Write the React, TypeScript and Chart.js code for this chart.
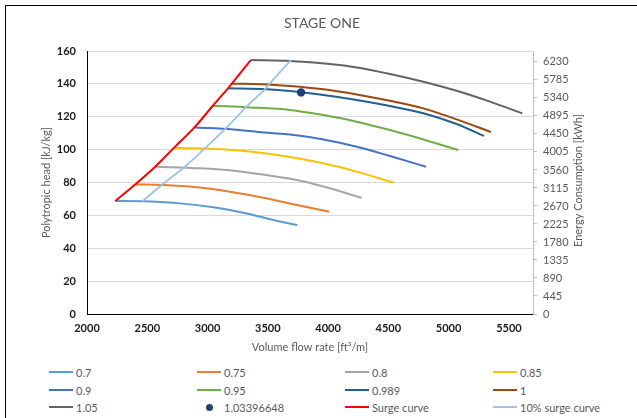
import React, { useEffect, useRef } from 'react';
import { Chart, registerables } from 'chart.js';

Chart.register(...registerables);

// ---- Data ----
const xTicks = [2000, 2500, 3000, 3500, 4000, 4500, 5000, 5500];
const headTicks = [0, 20, 40, 60, 80, 100, 120, 140, 160];
const energyTicks = [0, 445, 890, 1335, 1780, 2225, 2670, 3115, 3560, 4005, 4450, 4895, 5340, 5785, 6230];

const flow070 = [2235, 2464, 2773, 3049, 3326, 3547, 3746];
const head070 = [68.7, 68.6, 67.3, 64.9, 61.2, 57.2, 54.1];

const flow075 = [2400, 2635, 2912, 3188, 3464, 3741, 4011];
const head075 = [78.8, 78.5, 77.1, 74.4, 70.7, 66.3, 62.2];

const flow080 = [2566, 2939, 3215, 3492, 3768, 3961, 4279];
const head080 = [89.6, 88.6, 87.2, 84.5, 81.1, 77.6, 70.7];

const flow085 = [2723, 2950, 3215, 3492, 3685, 3961, 4238, 4547];
const head085 = [101.2, 100.7, 99.8, 97.7, 95.5, 91.7, 86.6, 79.9];

const flow090 = [2892, 3215, 3492, 3685, 3961, 4238, 4514, 4812];
const head090 = [113.5, 112.3, 110.3, 109.2, 106.2, 101.8, 96.1, 89.6];

const flow095 = [3044, 3354, 3685, 3961, 4238, 4514, 4790, 5080];
const head095 = [126.7, 125.7, 124.1, 121.0, 117.0, 111.9, 106.2, 99.8];

const flow0989 = [3170, 3492, 3685, 3961, 4238, 4514, 4790, 5066, 5293];
const head0989 = [137.3, 136.7, 135.6, 133.2, 130.2, 126.5, 122.1, 115.6, 108.3];

const flow100 = [3202, 3450, 3685, 3961, 4238, 4514, 4790, 5066, 5351];
const head100 = [140.1, 139.8, 138.7, 136.7, 133.6, 129.7, 125.1, 118.4, 110.7];

const flow105 = [3359, 3685, 4016, 4238, 4514, 4790, 5066, 5343, 5610];
const head105 = [154.5, 153.9, 152.1, 150.0, 146.0, 141.3, 135.8, 129.2, 122.1];

const pointFlow = [3776];
const pointHead = [134.8];

const surgeFlow = [2235, 2400, 2566, 2723, 2892, 3044, 3170, 3202, 3359];
const surgeHead = [68.7, 78.8, 89.6, 101.2, 113.5, 126.7, 137.3, 140.1, 154.5];

const surge10Flow = [2462, 2625, 2812, 2985, 3160, 3332, 3482, 3515, 3692];
const surge10Head = [68.7, 78.8, 89.6, 101.2, 113.5, 126.7, 137.3, 140.1, 154.5];

type Spec = { label: string; color: string; xs: number[]; ys: number[]; kind: 'curve' | 'point' | 'surge' };

const specs: Spec[] = [
  { label: '0.7', color: '#5B9BD5', xs: flow070, ys: head070, kind: 'curve' },
  { label: '0.75', color: '#ED7D31', xs: flow075, ys: head075, kind: 'curve' },
  { label: '0.8', color: '#A5A5A5', xs: flow080, ys: head080, kind: 'curve' },
  { label: '0.85', color: '#FFC000', xs: flow085, ys: head085, kind: 'curve' },
  { label: '0.9', color: '#4472C4', xs: flow090, ys: head090, kind: 'curve' },
  { label: '0.95', color: '#70AD47', xs: flow095, ys: head095, kind: 'curve' },
  { label: '0.989', color: '#255E91', xs: flow0989, ys: head0989, kind: 'curve' },
  { label: '1', color: '#9E480E', xs: flow100, ys: head100, kind: 'curve' },
  { label: '1.05', color: '#636363', xs: flow105, ys: head105, kind: 'curve' },
  { label: '1.03396648', color: '#203F73', xs: pointFlow, ys: pointHead, kind: 'point' },
  { label: 'Surge curve', color: '#FF0000', xs: surgeFlow, ys: surgeHead, kind: 'surge' },
  { label: '10% surge curve', color: '#9DC3E6', xs: surge10Flow, ys: surge10Head, kind: 'surge' },
];

const FONT = 'Lato, "Open Sans", sans-serif';

const extraText = {
  id: 'extraText',
  afterDraw(chart: any) {
    const { ctx, chartArea } = chart;
    ctx.save();
    ctx.fillStyle = '#595959';
    ctx.textAlign = 'center';
    ctx.textBaseline = 'middle';
    ctx.font = `14px ${FONT}`;
    ctx.fillText('STAGE ONE', 322, 23);
    ctx.translate(578, (chartArea.top + chartArea.bottom) / 2 - 2);
    ctx.rotate(-Math.PI / 2);
    ctx.font = `11px ${FONT}`;
    ctx.fillText('Energy Consumption [kWh]', 0, 0);
    ctx.restore();
  },
};

export default function App() {
  const ref = useRef<HTMLCanvasElement | null>(null);

  useEffect(() => {
    if (!ref.current) return;
    const datasets = specs.map((s, i) => ({
      label: s.label,
      data: s.xs.map((x, j) => ({ x, y: s.ys[j] })),
      borderColor: s.color,
      backgroundColor: s.color,
      borderWidth: s.label.startsWith('10') ? 1.8 : 2,
      showLine: s.kind !== 'point',
      pointRadius: s.kind === 'point' ? 3.2 : 0,
      pointHoverRadius: s.kind === 'point' ? 3.2 : 0,
      tension: s.kind === 'point' ? 0 : 0.4,
      cubicInterpolationMode: 'monotone' as const,
      yAxisID: 'y',
      order: -i,
    }));

    const chart = new Chart(ref.current, {
      type: 'scatter',
      data: { datasets },
      plugins: [extraText],
      options: {
        animation: false,
        responsive: false,
        devicePixelRatio: 1,
        layout: { padding: { top: 51, left: 0, right: 0, bottom: 0 } },
        plugins: { legend: { display: false }, title: { display: false }, tooltip: { enabled: false } },
        scales: {
          x: {
            type: 'linear',
            min: 2000,
            max: 5700,
            afterBuildTicks: (s: any) => { s.ticks = xTicks.map((v) => ({ value: v })); },
            afterFit: (s: any) => { s.height = 42; },
            grid: { display: true, color: 'rgba(0,0,0,0)', drawTicks: false },
            border: { display: true, color: '#000000', width: 1 },
            ticks: {
              padding: 8,
              color: '#1a1a1a',
              font: { family: FONT, size: 11, weight: 'bold' },
              callback: (v: any) => String(v),
              maxRotation: 0,
            },
            title: {
              display: true,
              text: 'Volume flow rate [ft³/m]',
              color: '#595959',
              font: { family: FONT, size: 11 },
              padding: { top: 0, bottom: 2 },
            },
          },
          y: {
            type: 'linear',
            position: 'left',
            min: 0,
            max: 160,
            afterBuildTicks: (s: any) => { s.ticks = headTicks.map((v) => ({ value: v })); },
            afterFit: (s: any) => { s.width = 87; },
            grid: {
              color: (c: any) => (c.tick && c.tick.value === 0 ? 'rgba(0,0,0,0)' : '#D9D9D9'),
              drawTicks: false,
            },
            border: { display: true, color: '#000000', width: 1 },
            ticks: {
              padding: 11,
              color: '#1a1a1a',
              font: { family: FONT, size: 11, weight: 'bold' },
              callback: (v: any) => String(v),
            },
            title: {
              display: true,
              text: 'Polytropic head [kJ/kg]',
              color: '#595959',
              font: { family: FONT, size: 11 },
              padding: { top: 40, bottom: 0 },
            },
          },
          y2: {
            type: 'linear',
            position: 'right',
            min: 0,
            max: 6500,
            afterBuildTicks: (s: any) => { s.ticks = energyTicks.map((v) => ({ value: v })); },
            afterFit: (s: any) => { s.width = 104; },
            grid: { drawOnChartArea: false, drawTicks: true, tickLength: 4, color: '#BFBFBF' },
            border: { display: true, color: '#BFBFBF', width: 1 },
            ticks: {
              padding: 6,
              color: '#595959',
              font: { family: FONT, size: 11 },
              callback: (v: any) => String(v),
            },
          },
        },
      },
    } as any);
    return () => chart.destroy();
  }, []);

  const rowTops = [365, 383, 400];

  return (
    <div style={{ position: 'fixed', left: 0, top: 0, width: 637, height: 418, overflow: 'hidden', background: '#ffffff' }}>
      <div style={{ position: 'absolute', left: 5, top: 5, width: 800, height: 600, border: '1px solid #000', boxSizing: 'border-box' }} />
      <canvas ref={ref} width={637} height={356} style={{ position: 'absolute', left: 0, top: 0, width: 637, height: 356 }} />
      {specs.map((s, i) => {
        const col = i % 4;
        const row = Math.floor(i / 4);
        return (
          <div
            key={s.label}
            style={{
              position: 'absolute',
              left: 49 + col * 148,
              top: rowTops[row],
              height: 14,
              display: 'flex',
              alignItems: 'center',
              font: `11px ${FONT}`,
              color: '#595959',
              whiteSpace: 'nowrap',
            }}
          >
            {s.kind === 'point' ? (
              <span style={{ width: 24, height: 14, display: 'flex', alignItems: 'center', justifyContent: 'center' }}>
                <span style={{ width: 7, height: 7, borderRadius: '50%', background: s.color }} />
              </span>
            ) : (
              <span style={{ width: 24, height: 2, background: s.color }} />
            )}
            <span style={{ marginLeft: 3 }}>{s.label}</span>
          </div>
        );
      })}
    </div>
  );
}
